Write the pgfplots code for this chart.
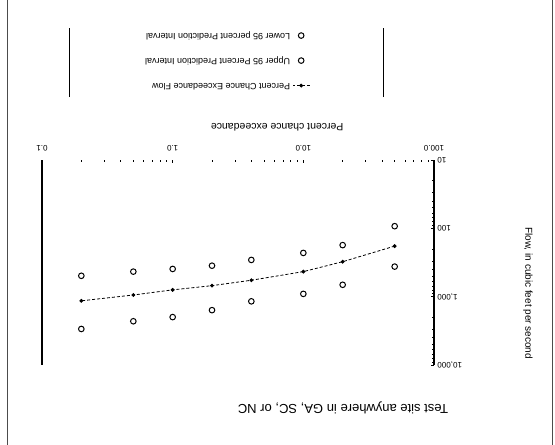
\documentclass[border=0pt]{standalone}
\usepackage{graphicx}
\usepackage{fontspec}
\setmainfont{Liberation Sans}
\usepackage{pgfplots}
\usepackage{pgfplotstable}
\pgfplotsset{compat=1.18}
\pgfplotstableread{
P Q
50 182
20 308
10 430
4 575
2 690
1 795
0.5 945
0.2 1150
}\esttab
\pgfplotstableread{
P Q
50 363
20 670
10 910
4 1170
2 1575
1 1990
0.5 2290
0.2 2970
}\uppertab
\pgfplotstableread{
P Q
50 93
20 176
10 229
4 290
2 352
1 393
0.5 430
0.2 495
}\lowertab
\begin{document}
\rotatebox{180}{%
\begin{tikzpicture}
\path[use as bounding box] (0,0) rectangle (555pt,445pt);
\draw[black!70, line width=0.8pt] (3pt,0) -- (3pt,445pt);
\draw[black!70, line width=0.8pt] (548pt,0) -- (548pt,445pt);
\begin{axis}[
  at={(121pt,160pt)}, anchor=south west,
  scale only axis, width=392pt, height=205pt,
  clip=false,
  xmode=log, ymode=log,
  x dir=reverse,
  xmin=0.1, xmax=100, ymin=10, ymax=10000,
  xtick={0.1,1,10,100}, xticklabels={0.1,1.0,10.0,100.0},
  ytick={10,100,1000,10000}, yticklabels={10,100,{1,000},{10,000}},
  xtick pos=bottom, ytick pos=left,
  separate axis lines,
  x axis line style={draw=none},
  y axis line style={line width=1.2pt},
  tick style={black, line width=0.7pt},
  major tick length=3pt, minor tick length=2pt,
  xticklabel style={font=\fontsize{8}{9}\selectfont, yshift=-5pt},
  yticklabel style={font=\fontsize{8}{9}\selectfont},
  title={Test site anywhere in GA, SC, or NC},
  title style={at={(0.232,1.18)}, anchor=center, font=\fontsize{13}{15}\selectfont},
  xlabel={Percent chance exceedance},
  xlabel style={at={(0.40,-0.16)}, anchor=center, font=\fontsize{10.5}{12}\selectfont},
  ylabel={Flow, in cubic feet per second},
  ylabel style={at={(-0.24,0.65)}, anchor=center, rotate=0, font=\fontsize{10}{12}\selectfont},
  legend cell align=left,
  legend style={at={(0.529,-0.318)}, anchor=north, draw=none, fill=none,
    inner xsep=4pt, inner ysep=3pt, row sep=13pt,
    font=\fontsize{9}{10}\selectfont},
]
\addplot[black, densely dashed, line width=0.8pt, mark=*, mark size=1.5pt, mark options={solid}] table[x=P,y=Q] {\esttab};
\addlegendentry{Percent Chance Exceedance Flow}
\addplot[black, only marks, mark=o, mark size=2.8pt, line width=1pt] table[x=P,y=Q] {\uppertab};
\addlegendentry{Upper 95 Percent Prediction Interval}
\addplot[black, only marks, mark=o, mark size=2.8pt, line width=1pt] table[x=P,y=Q] {\lowertab};
\addlegendentry{Lower 95 percent Prediction Interval}
\draw[line width=1.3pt] (rel axis cs:0,0) -- (rel axis cs:0,1);
\draw[line width=1.3pt] (rel axis cs:1,0) -- (rel axis cs:1,1);
\draw[line width=1pt] (rel axis cs:0.128,-0.307) -- (rel axis cs:0.128,-0.644);
\draw[line width=1pt] (rel axis cs:0.931,-0.307) -- (rel axis cs:0.931,-0.644);
\end{axis}
\end{tikzpicture}%
}
\end{document}
